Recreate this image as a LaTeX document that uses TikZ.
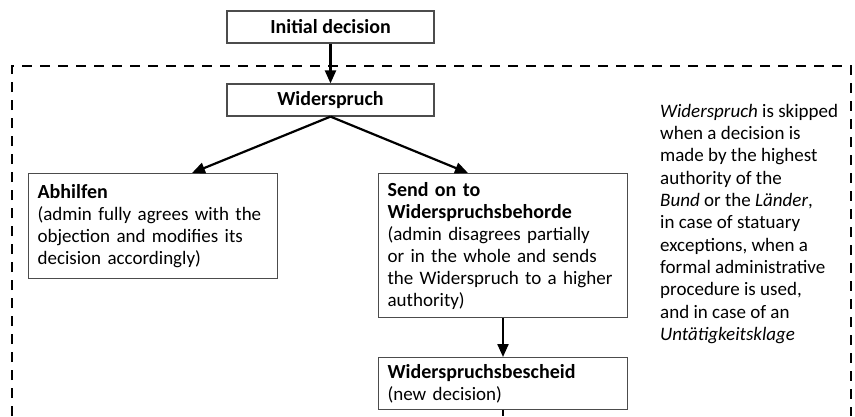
\documentclass[tikz,border=0pt]{standalone}
\usepackage{fontspec}
\setmainfont{Carlito}
\usetikzlibrary{arrows.meta}
\newcommand{\boxhead}[1]{{\fontsize{20}{22}\selectfont\bfseries #1}}

\begin{document}
\begin{tikzpicture}[x=1pt,y=-1pt,
  box/.style={draw=black!70, line width=1.2pt, rectangle, inner sep=0pt,
    font=\fontsize{19}{22}\selectfont},
  titlebox/.style={box, minimum width=207pt, minimum height=32pt},
  textbox/.style={box, anchor=north west, align=left, inner xsep=9pt,
    text width=231pt, minimum width=249pt},
  link/.style={line width=2.2pt, -{Triangle[length=13pt,width=11pt]}}]
\useasboundingbox (0,0) rectangle (855,416);
% procedure box
\draw[dashed, line width=1.8pt, dash pattern=on 10pt off 8pt]
  (12,416) -- (12,66) -- (851,66) -- (851,416);
\node[titlebox] (initial) at (330.5,27) {\boxhead{Initial decision}};
\node[titlebox] (wider) at (330.5,100) {\boxhead{Widerspruch}};
\node[textbox, minimum height=105pt] (abhilfen) at (28,173)
  {\boxhead{Abhilfen}\\(admin fully agrees with the\\objection and modifies its\\decision accordingly)};
\node[textbox, minimum height=144pt] (sendon) at (378,173)
  {\boxhead{Send on to}\\\boxhead{Widerspruchsbehorde}\\(admin disagrees partially\\or in the whole and sends\\the Widerspruch to a higher\\authority)};
\node[textbox, minimum height=52pt] (bescheid) at (378,357)
  {\boxhead{Widerspruchsbescheid}\\(new decision)};
% note on the right
\node[anchor=north west, align=left, inner sep=0pt,
  font=\fontsize{19}{22.3}\selectfont] (note) at (660,104)
  {\textit{Widerspruch} is skipped\\when a decision is\\made by the highest\\authority of the\\\textit{Bund} or the \textit{Länder},\\in case of statuary\\exceptions, when a\\formal administrative\\procedure is used,\\and in case of an\\\textit{Untätigkeitsklage}};
\coordinate (bottom) at (503,416);
% connectors
\draw[link] (initial.south) -- (wider.north);
\draw[link] (wider.south) -- (abhilfen.north -| 192,0);
\draw[link] (wider.south) -- (sendon.north -| 468,0);
\draw[link] (sendon.south -| bottom) -- (bescheid.north -| bottom);
\draw[line width=2.2pt] (bescheid.south -| bottom) -- (bottom);
\end{tikzpicture}
\end{document}
